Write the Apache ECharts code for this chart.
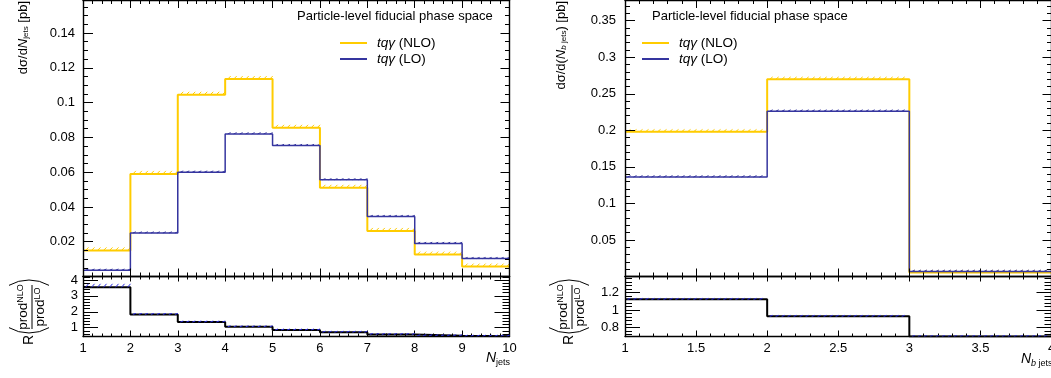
<!DOCTYPE html>
<html><head><meta charset="utf-8">
<script src="https://cdn.jsdelivr.net/npm/echarts@6/dist/echarts.min.js"></script>
<style>html,body{margin:0;padding:0;background:#fff}#c{width:1051px;height:378px}</style>
</head><body><div id="c"></div>
<script>
// ---------------- data ----------------
const njetEdges = [1, 2, 3, 4, 5, 6, 7, 8, 9, 10];
const njetNLO = [0.0150, 0.0590, 0.1045, 0.1135, 0.0855, 0.0510, 0.0262, 0.0126, 0.0057];
const njetNLOErr = [0.0007, 0.0010, 0.0014, 0.0015, 0.0012, 0.0009, 0.0007, 0.0005, 0.0004];
const njetLO = [0.0036, 0.0250, 0.0600, 0.0820, 0.0753, 0.0556, 0.0345, 0.0190, 0.0103];
const njetLOErr = [0.0003, 0.0004, 0.0005, 0.0005, 0.0005, 0.0004, 0.0004, 0.0003, 0.0003];
const njetRatio = [3.54, 1.84, 1.36, 1.06, 0.86, 0.72, 0.58, 0.50, 0.47];
const njetRatioErr = [0.22, 0.02, 0.02, 0.02, 0.02, 0.02, 0.02, 0.02, 0.02];

const nbEdges = [1, 2, 3, 4];
const nbNLO = [0.198, 0.2698, 0.0055];
const nbNLOErr = [0.0015, 0.0018, 0.0004];
const nbLO = [0.136, 0.226, 0.0068];
const nbLOErr = [0.0012, 0.0014, 0.0003];
const nbRatio = [1.124, 0.93, 0.70];
const nbRatioErr = [0.004, 0.004, 0.004];

// tick labels
const njetXTicks = [1, 2, 3, 4, 5, 6, 7, 8, 9, 10];
const nbXTicks = [1, 1.5, 2, 2.5, 3, 3.5, 4];
const njetYTicks = [0.02, 0.04, 0.06, 0.08, 0.1, 0.12, 0.14];
const nbYTicks = [0.05, 0.1, 0.15, 0.2, 0.25, 0.3, 0.35];
const njetRTicks = [1, 2, 3, 4];
const nbRTicks = [0.8, 1, 1.2];

// ---------------- style ----------------
const FONT = 'Liberation Sans';
const C_NLO = '#ffcc00';
const C_LO = '#35359f';

function minorTicks(min, max, step) {
  const out = [];
  const k0 = Math.ceil(min / step - 1e-9), k1 = Math.floor(max / step + 1e-9);
  for (let k = k0; k <= k1; k++) out.push(Math.round(k * step * 1e6) / 1e6);
  return out;
}

const xAxes = [], yAxes = [];
function mkAxis(grid, pos, min, max, ticks, len, showLine, label) {
  return {
    type: 'value', gridIndex: grid, position: pos, min: min, max: max,
    axisLine: { show: showLine, onZero: false, lineStyle: { color: '#000', width: 1.4 } },
    axisTick: { show: true, inside: true, length: len, customValues: ticks, lineStyle: { color: '#000', width: 1 } },
    axisLabel: label ? Object.assign({ show: true, customValues: ticks, color: '#000', fontFamily: FONT, fontSize: 13 }, label) : { show: false },
    splitLine: { show: false }, minorTick: { show: false }, minorSplitLine: { show: false },
    axisPointer: { show: false }, z: 5
  };
}
function addAxes(list, grid, posA, posB, min, max, majors, step, lenA, lenB, label) {
  const idx = list.length;
  const mins = minorTicks(min, max, step);
  list.push(mkAxis(grid, posA, min, max, majors, lenA[0], true, label));
  list.push(mkAxis(grid, posA, min, max, mins, lenA[1], false, null));
  list.push(mkAxis(grid, posB, min, max, majors, lenB[0], true, null));
  list.push(mkAxis(grid, posB, min, max, mins, lenB[1], false, null));
  return idx;
}

const grids = [
  { left: 83, top: 0, width: 426.5, height: 276.5 },
  { left: 83, top: 276.5, width: 426.5, height: 60 },
  { left: 625, top: 0, width: 426.5, height: 276.5 },
  { left: 625, top: 276.5, width: 426.5, height: 60 }
].map(g => Object.assign({ outerBoundsMode: 'none', containLabel: false, show: false }, g));

const R0 = [0.45, 4.22], R1 = [0.70, 1.385];
const Y0 = [0, 0.159], Y1 = [0, 0.3783];

const gx0 = addAxes(xAxes, 0, 'bottom', 'top', 1, 10, njetXTicks, 0.2, [8, 4], [8, 4], null);
const gy0 = addAxes(yAxes, 0, 'left', 'right', Y0[0], Y0[1], njetYTicks, 0.005, [10, 5], [9, 4.5], { margin: 8 });
const gx1 = addAxes(xAxes, 1, 'bottom', 'top', 1, 10, njetXTicks, 0.2, [6, 3], [5, 3], { margin: 5 });
const gy1 = addAxes(yAxes, 1, 'left', 'right', R0[0], R0[1], njetRTicks, 0.2, [15, 7], [15, 7], { margin: 5 });
const gx2 = addAxes(xAxes, 2, 'bottom', 'top', 1, 4, nbXTicks, 0.1, [8, 4], [8, 4], null);
const gy2 = addAxes(yAxes, 2, 'left', 'right', Y1[0], Y1[1], nbYTicks, 0.01, [10, 5], [9, 4.5], { margin: 9 });
const gx3 = addAxes(xAxes, 3, 'bottom', 'top', 1, 4, nbXTicks, 0.1, [6, 3], [5, 3], { margin: 5 });
const gy3 = addAxes(yAxes, 3, 'left', 'right', R1[0], R1[1], nbRTicks, 0.04, [15, 7], [15, 7], { margin: 6 });

function histData(edges, vals) {
  const d = vals.map((v, i) => [edges[i], v]);
  d.push([edges[edges.length - 1], vals[vals.length - 1]]);
  return d;
}
function bandData(edges, vals, errs) {
  return vals.map((v, i) => [edges[i], edges[i + 1], v, v + errs[i]]);
}
function hatchItem(color, h) {
  return function (params, api) {
    const a = api.coord([api.value(0), api.value(2)]);
    const b = api.coord([api.value(1), api.value(3)]);
    const yb = a[1], yt = Math.min(b[1], yb - h);
    const ch = [];
    for (let x = a[0] + 4; x < b[0] - 1; x += 6) {
      ch.push({ type: 'line', shape: { x1: x - 1.5, y1: yb, x2: x + 1.5, y2: yt }, style: { stroke: color, lineWidth: 1 } });
    }
    return { type: 'group', children: ch };
  };
}
function hist(name, xi, yi, edges, vals, color, width, z) {
  return {
    type: 'line', name: name, xAxisIndex: xi, yAxisIndex: yi, step: 'end', symbol: 'none', showSymbol: false,
    data: histData(edges, vals), lineStyle: { color: color, width: width }, itemStyle: { color: color },
    silent: true, animation: false, z: z, clip: true
  };
}
function band(xi, yi, edges, vals, errs, color, h, z) {
  return {
    type: 'custom', xAxisIndex: xi, yAxisIndex: yi, coordinateSystem: 'cartesian2d',
    data: bandData(edges, vals, errs), renderItem: hatchItem(color, h),
    encode: { x: [0, 1], y: [2, 3] }, silent: true, animation: false, z: z || 3, clip: true
  };
}

const NLO = 'tqγ (NLO)', LO = 'tqγ (LO)';
const series = [
  band(gx0, gy0, njetEdges, njetNLO, njetNLOErr, C_NLO, 3),
  band(gx0, gy0, njetEdges, njetLO, njetLOErr, C_LO, 1.2),
  hist(NLO, gx0, gy0, njetEdges, njetNLO, C_NLO, 2, 4),
  hist(LO, gx0, gy0, njetEdges, njetLO, C_LO, 1.5, 4),
  hist('ratio1', gx1, gy1, njetEdges, njetRatio, '#000', 2, 4),
  band(gx1, gy1, njetEdges, njetRatio, njetRatioErr, '#2a2ae0', 1.0, 6),
  band(gx2, gy2, nbEdges, nbNLO, nbNLOErr, C_NLO, 2.4),
  band(gx2, gy2, nbEdges, nbLO, nbLOErr, C_LO, 1.5),
  hist(NLO, gx2, gy2, nbEdges, nbNLO, C_NLO, 2, 4),
  hist(LO, gx2, gy2, nbEdges, nbLO, C_LO, 1.5, 4),
  hist('ratio2', gx3, gy3, nbEdges, nbRatio, '#000', 2, 4),
  band(gx3, gy3, nbEdges, nbRatio, nbRatioErr, '#2a2ae0', 1.0, 6)
];

const legendText = {
  fontFamily: FONT, fontSize: 13.5, color: '#000', lineHeight: 14, padding: [0, 0, 0, 5],
  rich: { i: { fontStyle: 'italic', fontFamily: FONT, fontSize: 13.5, color: '#000' } }
};
function mkLegend(left) {
  return {
    orient: 'vertical', left: left, top: 36, itemWidth: 27, itemHeight: 2, itemGap: 2, icon: 'rect',
    data: [NLO, LO], selectedMode: false, textStyle: legendText, padding: 0,
    formatter: n => n.replace('tqγ', '{i|tqγ}')
  };
}

const richY = {
  i: { fontStyle: 'italic', fontFamily: FONT, fontSize: 13, fill: '#000' },
  s: { fontFamily: FONT, fontSize: 8, fill: '#000', verticalAlign: 'bottom', padding: [4, 0, 0, 0] },
  si: { fontFamily: FONT, fontStyle: 'italic', fontSize: 8, fill: '#000', verticalAlign: 'bottom', padding: [4, 0, 0, 0] }
};
const richX = {
  i: { fontStyle: 'italic', fontFamily: FONT, fontSize: 14, fill: '#000' },
  s: { fontFamily: FONT, fontSize: 9, fill: '#000', verticalAlign: 'bottom', padding: [8, 0, 0, 0] },
  si: { fontFamily: FONT, fontStyle: 'italic', fontSize: 9, fill: '#000', verticalAlign: 'bottom', padding: [8, 0, 0, 0] }
};
function ratioTitle(cx, cy) {
  const rich = {
    a: { fontFamily: FONT, fontSize: 13.5, fill: '#000' },
    s: { fontFamily: FONT, fontSize: 9, fill: '#000', verticalAlign: 'top', padding: [0, 0, 6, 0] }
  };
  const st = { stroke: '#000', lineWidth: 1, fill: null };
  return {
    type: 'group', x: cx, y: cy, rotation: Math.PI / 2, silent: true, children: [
      { type: 'text', x: -33, y: -3, style: { text: 'R', fontFamily: FONT, fontSize: 14, fill: '#000', align: 'center', verticalAlign: 'middle' } },
      { type: 'arc', shape: { cx: 14, cy: -3, r: 40, startAngle: 5 * Math.PI / 6, endAngle: 7 * Math.PI / 6 }, style: st },
      { type: 'arc', shape: { cx: -13, cy: -3, r: 40, startAngle: -Math.PI / 6, endAngle: Math.PI / 6 }, style: st },
      { type: 'text', x: 0, y: -1, style: { text: '{a|prod}{s|NLO}', rich: rich, align: 'center', verticalAlign: 'bottom' } },
      { type: 'line', shape: { x1: -22, y1: 0, x2: 22, y2: 0 }, style: { stroke: '#000', lineWidth: 1 } },
      { type: 'text', x: 0, y: 1, style: { text: '{a|prod}{s|LO}', rich: rich, align: 'center', verticalAlign: 'top' } }
    ]
  };
}

const graphic = [
  { type: 'text', left: 297, top: 10, silent: true, style: { text: 'Particle-level fiducial phase space', fontFamily: FONT, fontSize: 13, fill: '#000' } },
  { type: 'text', left: 652, top: 10, silent: true, style: { text: 'Particle-level fiducial phase space', fontFamily: FONT, fontSize: 13, fill: '#000' } },
  { type: 'text', x: 23, y: 1, rotation: Math.PI / 2, silent: true,
    style: { text: 'dσ/d{i|N}{s|jets} [pb]', fontFamily: FONT, fontSize: 13, fill: '#000', align: 'right', verticalAlign: 'middle', rich: richY } },
  { type: 'text', x: 561, y: 1, rotation: Math.PI / 2, silent: true,
    style: { text: 'dσ/d({i|N}{si|b}{s| jets}) [pb]', fontFamily: FONT, fontSize: 13, fill: '#000', align: 'right', verticalAlign: 'middle', rich: richY } },
  { type: 'text', x: 510, y: 350, silent: true,
    style: { text: '{i|N}{s|jets}', align: 'right', verticalAlign: 'top', rich: richX, fontFamily: FONT, fontSize: 14 } },
  { type: 'text', x: 1021, y: 351, silent: true,
    style: { text: '{i|N}{si|b}{s| jets}', align: 'left', verticalAlign: 'top', rich: richX, fontFamily: FONT, fontSize: 14 } },
  ratioTitle(32, 307),
  ratioTitle(572, 307)
];

const chart = echarts.init(document.getElementById('c'), null, { renderer: 'canvas' });
chart.setOption({
  animation: false,
  backgroundColor: '#fff',
  grid: grids,
  xAxis: xAxes,
  yAxis: yAxes,
  legend: [mkLegend(340), mkLegend(642)],
  series: series,
  graphic: graphic
});
</script>
</body></html>
